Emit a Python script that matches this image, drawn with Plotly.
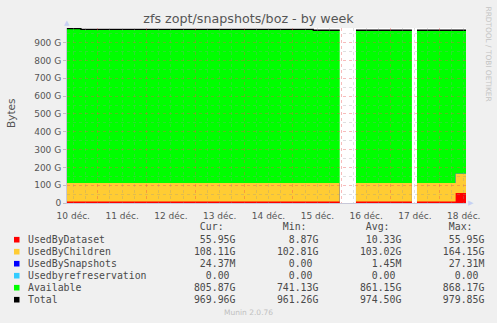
import plotly.graph_objects as go
from datetime import datetime, timedelta

# ---------------- data (values in G) ----------------
times = ["2024-12-10 08:00", "2024-12-10 15:45", "2024-12-15 10:00", "2024-12-15 23:00",
         "2024-12-16 03:00",
         "2024-12-16 07:00", "2024-12-17 10:30",
         "2024-12-17 11:45",
         "2024-12-17 13:00", "2024-12-18 08:00", "2024-12-18 14:00"]
used_by_dataset = [8.87, 8.87, 8.87, 8.87, None, 8.87, 8.87, None, 8.87, 55.95, 55.95]
used_by_children = [102.81, 102.81, 102.90, 102.90, None, 103.00, 103.00, None, 103.00, 108.11, 108.11]
used_by_snapshots = [0.0, 0.0, 0.0, 0.0, None, 0.0, 0.0, None, 0.0, 0.024, 0.024]
used_by_refreservation = [0.0, 0.0, 0.0, 0.0, None, 0.0, 0.0, None, 0.0, 0.0, 0.0]
available = [868.17, 863.32, 858.23, 858.23, None, 858.13, 858.13, None, 857.96, 805.87, 805.87]
total = [979.85, 975.00, 970.00, 970.00, None, 970.00, 970.00, None, 969.96, 969.96, 969.96]

day_labels = ["10 déc.", "11 déc.", "12 déc.", "13 déc.", "14 déc.", "15 déc.", "16 déc.", "17 déc.", "18 déc."]
y_tickvals = [0, 100, 200, 300, 400, 500, 600, 700, 800, 900]
y_ticktext = ["0", "100 G", "200 G", "300 G", "400 G", "500 G", "600 G", "700 G", "800 G", "900 G"]

series_names = ["UsedByDataset", "UsedByChildren", "UsedBySnapshots", "Usedbyrefreservation", "Available", "Total"]
series_colors = ["#FF0000", "#FFCC33", "#0000FF", "#33CCFF", "#00FF00", "#000000"]
cur_vals = ["55.95G", "108.11G", "24.37M", "0.00 ", "805.87G", "969.96G"]
min_vals = ["8.87G", "102.81G", "0.00 ", "0.00 ", "741.13G", "961.26G"]
avg_vals = ["10.33G", "103.02G", "1.45M", "0.00 ", "861.15G", "974.50G"]
max_vals = ["55.95G", "164.15G", "27.31M", "0.00 ", "868.17G", "979.85G"]

# ---------------- layout geometry ----------------
W, H = 497, 323
PL, PR, PT, PB = 67, 466, 28, 203
X_LEFT = "2024-12-10 08:54"
X_RIGHT = "2024-12-18 13:06"
Y_MAX = 982.6


def px(x):
    return (x - PL) / (PR - PL)


def py(y):
    return (PB - y) / (PB - PT)


def split_segments(xs, ys):
    segs, cx, cy = [], [], []
    for x, y in zip(xs, ys):
        if y is None:
            if cx:
                segs.append((cx, cy))
            cx, cy = [], []
        else:
            cx.append(x)
            cy.append(y)
    if cx:
        segs.append((cx, cy))
    return segs


fig = go.Figure()

layers = [used_by_dataset, used_by_children, used_by_snapshots, used_by_refreservation, available]
cums = []
running = [0.0] * len(times)
for vals in layers:
    running = [None if (r is None or v is None) else r + v for r, v in zip(running, vals)]
    cums.append(running)

# draw from top layer down so lower layers overlay
for idx in range(len(layers) - 1, -1, -1):
    for sx, sy in split_segments(times, cums[idx]):
        fig.add_trace(go.Scatter(x=sx, y=sy, mode="lines", line=dict(width=0, shape="hv"),
                                 fill="tozeroy", fillcolor=series_colors[idx],
                                 hoverinfo="skip", showlegend=False, xaxis="x", yaxis="y"))

for sx, sy in split_segments(times, total):
    fig.add_trace(go.Scatter(x=sx, y=sy, mode="lines", line=dict(width=1.3, color="#000000", shape="hv"),
                             hoverinfo="skip", showlegend=False, xaxis="x", yaxis="y"))

# dummy trace for grid overlay subplot
fig.add_trace(go.Scatter(x=[X_LEFT], y=[-10], mode="markers", marker=dict(opacity=0),
                         hoverinfo="skip", showlegend=False, xaxis="x2", yaxis="y2"))

# grid positions
base = datetime(2024, 12, 10)
noons = [(base + timedelta(days=i, hours=12)).strftime("%Y-%m-%d %H:%M") for i in range(9)]
midnights = [(base + timedelta(days=i)).strftime("%Y-%m-%d %H:%M") for i in range(1, 9)]
sixh = [(base + timedelta(hours=6 * k)).strftime("%Y-%m-%d %H:%M") for k in range(0, 37) if k % 4 != 0]

grid_major = "rgba(235,80,80,0.38)"
grid_minor = "rgba(150,150,150,0.3)"
tick_font = dict(family="DejaVu Sans", size=9, color="#555555")

fig.update_layout(
    width=W, height=H,
    margin=dict(l=PL, r=W - PR, t=PT, b=H - PB, pad=0),
    paper_bgcolor="#F0F0F0",
    plot_bgcolor="rgba(0,0,0,0)",
    showlegend=False,
    title=dict(text="zfs zopt/snapshots/boz - by week", x=0.5, xref="container", xanchor="center",
               y=1 - 19 / H, yref="container", yanchor="middle",
               font=dict(family="DejaVu Sans", size=12.7, color="#555555")),
    xaxis=dict(type="date", range=[X_LEFT, X_RIGHT], domain=[0, 1], anchor="y",
               tickmode="array", tickvals=noons, ticktext=day_labels, ticks="",
               showgrid=False, zeroline=False, showline=True, linecolor="#C8C8D8", linewidth=1,
               tickfont=tick_font, ticklabelstandoff=4),
    yaxis=dict(range=[0, Y_MAX], domain=[0, 1], anchor="x",
               tickmode="array", tickvals=y_tickvals, ticktext=y_ticktext,
               ticks="outside", ticklen=3, tickcolor="#C0C0C0",
               showgrid=False, zeroline=False, showline=True, linecolor="#C8C8D8", linewidth=1,
               tickfont=tick_font),
    xaxis2=dict(type="date", range=[X_LEFT, X_RIGHT], domain=[0, 1], anchor="y2",
                tickmode="array", tickvals=midnights, showticklabels=False, ticks="",
                showgrid=True, gridcolor=grid_major, griddash="dot", gridwidth=1, zeroline=False,
                minor=dict(tickvals=sixh, showgrid=True, gridcolor=grid_minor, griddash="dot", gridwidth=1)),
    yaxis2=dict(range=[0, Y_MAX], domain=[0, 1], anchor="x2",
                tickmode="array", tickvals=y_tickvals[1:], showticklabels=False, ticks="",
                showgrid=True, gridcolor=grid_major, griddash="dot", gridwidth=1, zeroline=False,
                minor=dict(tickvals=[50 + 100 * k for k in range(10)], showgrid=True,
                           gridcolor=grid_minor, griddash="dot", gridwidth=1)),
)

ann = []
# y axis title
ann.append(dict(text="Bytes", x=px(11), y=py(114), xref="paper", yref="paper", showarrow=False,
                textangle=-90, font=dict(family="DejaVu Sans", size=10.5, color="#555555"),
                xanchor="center", yanchor="middle"))
# rrdtool credit
ann.append(dict(text="RRDTOOL / TOBI OETIKER", x=px(488), y=py(53.5), xref="paper", yref="paper",
                showarrow=False, textangle=90, font=dict(family="DejaVu Sans", size=7.4, color="#C4C4C4"),
                xanchor="center", yanchor="middle"))
# axis arrows
ann.append(dict(text="▲", x=px(67), y=py(23), xref="paper", yref="paper", showarrow=False,
                font=dict(family="DejaVu Sans", size=7, color="#C8D0F4"), xanchor="center", yanchor="middle"))
ann.append(dict(text="▶", x=px(471), y=py(203), xref="paper", yref="paper", showarrow=False,
                font=dict(family="DejaVu Sans", size=7, color="#C8D0F4"), xanchor="center", yanchor="middle"))

mono = dict(family="DejaVu Sans Mono", size=9.85, color="#4A4A4A")
LEG_X = 26
header = " " * 29 + "Cur:" + " " * 10 + "Min:" + " " * 10 + "Avg:" + " " * 10 + "Max:"
ann.append(dict(text=header, x=px(LEG_X), y=py(226), xref="paper", yref="paper", showarrow=False,
                font=mono, xanchor="left", yanchor="middle"))
# white plot background (drawn below every subplot)
shapes = [dict(type="rect", xref="paper", yref="paper", x0=0, x1=1, y0=0, y1=1,
               fillcolor="#FFFFFF", line=dict(width=0), layer="below")]
for i, name in enumerate(series_names):
    row_y = 239.7 + 12 * i
    row = name.ljust(28) + cur_vals[i].rjust(7) + min_vals[i].rjust(14) + avg_vals[i].rjust(14) + max_vals[i].rjust(14)
    ann.append(dict(text=row, x=px(LEG_X), y=py(row_y), xref="paper", yref="paper", showarrow=False,
                    font=mono, xanchor="left", yanchor="middle"))
    shapes.append(dict(type="rect", xref="paper", yref="paper", x0=px(14), x1=px(19.5),
                       y0=py(row_y + 2.8), y1=py(row_y - 2.8), fillcolor=series_colors[i],
                       line=dict(width=0)))

ann.append(dict(text="Munin 2.0.76", x=px(248), y=py(312), xref="paper", yref="paper", showarrow=False,
                font=dict(family="DejaVu Sans", size=7.5, color="#C0C0C0"), xanchor="center", yanchor="middle"))

fig.update_layout(annotations=ann, shapes=shapes)

fig.write_html("out.html")
